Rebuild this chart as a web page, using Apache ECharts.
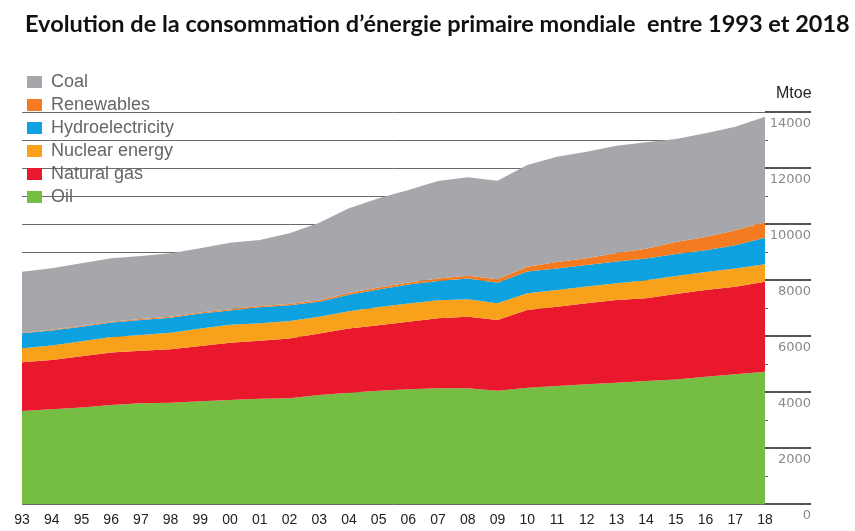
<!DOCTYPE html>
<html>
<head>
<meta charset="utf-8">
<script src="https://cdn.jsdelivr.net/npm/echarts@6/dist/echarts.min.js"></script>
<style>
  html, body { margin: 0; padding: 0; background: #fff; }
  #chart { width: 855px; height: 531px; }
</style>
</head>
<body>
<div id="chart"></div>
<script>
// years 1993 -> 2018, Mtoe
const years = ['93', '94', '95', '96', '97', '98', '99', '00', '01', '02', '03', '04', '05',
  '06', '07', '08', '09', '10', '11', '12', '13', '14', '15', '16', '17', '18'];

const oil = [3320, 3380, 3450, 3535, 3595, 3620, 3670, 3715, 3760, 3775, 3890, 3975, 4045,
  4095, 4130, 4130, 4045, 4155, 4215, 4275, 4330, 4395, 4445, 4545, 4630, 4725];
const naturalGas = [1740, 1760, 1830, 1880, 1880, 1905, 1975, 2045, 2070, 2140, 2200, 2295, 2340,
  2415, 2500, 2560, 2525, 2775, 2830, 2895, 2955, 2955, 3055, 3095, 3130, 3215];
const nuclear = [500, 525, 535, 545, 560, 590, 620, 640, 625, 625, 595, 610, 650,
  655, 645, 625, 600, 600, 595, 595, 600, 640, 645, 650, 655, 620];
const hydro = [535, 535, 515, 520, 535, 535, 535, 515, 570, 560, 540, 595, 630,
  675, 690, 735, 735, 770, 775, 775, 775, 775, 785, 775, 830, 950];
const renewables = [25, 27, 29, 31, 33, 35, 38, 40, 42, 45, 50, 60, 65,
  75, 88, 100, 120, 175, 225, 240, 300, 355, 425, 475, 535, 550];
const coal = [2175, 2190, 2235, 2265, 2255, 2270, 2295, 2375, 2360, 2525, 2770, 3025, 3190,
  3300, 3485, 3520, 3520, 3630, 3765, 3800, 3835, 3800, 3680, 3700, 3695, 3770];

const legendOrder = ['Coal', 'Renewables', 'Hydroelectricity', 'Nuclear energy', 'Natural gas', 'Oil'];

const chart = echarts.init(document.getElementById('chart'));

function area(name, data, color) {
  return {
    name: name,
    type: 'line',
    stack: 'total',
    data: data,
    symbol: 'none',
    lineStyle: { width: 0 },
    areaStyle: { color: color, opacity: 1 },
    itemStyle: { color: color },
    emphasis: { disabled: true }
  };
}

const option = {
  animation: false,
  title: {
    text: 'Evolution de la consommation d\u2019énergie primaire mondiale  entre 1993 et 2018',
    left: 20,
    top: 7,
    textStyle: {
      fontFamily: 'Lato',
      fontWeight: 'bold',
      fontSize: 23.5,
      color: '#111'
    }
  },
  legend: {
    data: legendOrder,
    orient: 'vertical',
    left: 27,
    top: 73,
    padding: 0,
    itemWidth: 15,
    itemHeight: 12,
    itemGap: 5,
    icon: 'rect',
    textStyle: {
      fontFamily: 'Liberation Sans',
      fontSize: 18,
      lineHeight: 18,
      color: '#666',
      padding: [0, 0, 0, 4]
    }
  },
  graphic: [{
    type: 'text',
    left: 776,
    top: 86,
    style: {
      text: 'Mtoe',
      font: '16px "Liberation Sans"',
      fill: '#222'
    }
  }],
  grid: {
    left: 22,
    right: 90,
    top: 112,
    bottom: 27
  },
  xAxis: {
    type: 'category',
    boundaryGap: false,
    data: years,
    axisLine: { show: false },
    axisTick: { show: false },
    axisLabel: {
      interval: 0,
      margin: 9,
      fontFamily: 'Liberation Sans',
      fontSize: 14,
      color: '#222'
    }
  },
  yAxis: {
    type: 'value',
    position: 'right',
    min: 0,
    max: 14000,
    interval: 2000,
    axisLine: { show: false },
    axisTick: {
      show: true,
      length: 46,
      lineStyle: { color: '#555', width: 2 }
    },
    minorTick: {
      show: true,
      splitNumber: 2,
      length: 3,
      lineStyle: { color: '#666' }
    },
    splitLine: {
      lineStyle: { color: '#6a6a6a', width: 1 }
    },
    minorSplitLine: {
      show: true,
      lineStyle: { color: '#6a6a6a', width: 1 }
    },
    axisLabel: {
      align: 'right',
      verticalAlign: 'top',
      margin: 46,
      padding: [5, 0, 0, 0],
      fontFamily: 'DejaVu Sans',
      fontSize: 13,
      color: '#888',
      formatter: (v) => String(v)
    }
  },
  series: [
    area('Oil', oil, '#76bd43'),
    area('Natural gas', naturalGas, '#e9182d'),
    area('Nuclear energy', nuclear, '#f9a11b'),
    area('Hydroelectricity', hydro, '#0ea1df'),
    area('Renewables', renewables, '#f47b20'),
    area('Coal', coal, '#a7a6aa')
  ]
};

chart.setOption(option);
</script>
</body>
</html>
